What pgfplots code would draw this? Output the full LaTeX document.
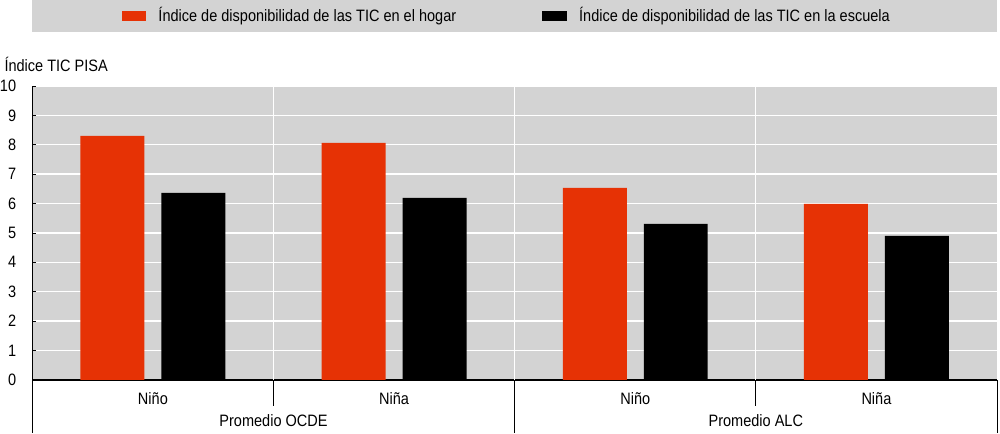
\documentclass[border=0pt]{standalone}
\usepackage{fontspec}
\setmainfont{Liberation Sans}[FakeStretch=0.88]
\usepackage{pgfplots}
\pgfplotsset{compat=1.18}
\definecolor{bgray}{RGB}{211,211,211}
\definecolor{tred}{RGB}{230,50,5}
\begin{document}
\fontsize{16.5pt}{19pt}\selectfont
\begin{tikzpicture}
\begin{axis}[
  scale only axis, width=965pt, height=294pt,
  xmin=0, xmax=4, ymin=0, ymax=10,
  clip=false,
  axis background/.style={fill=bgray},
  axis x line*=bottom, axis y line*=left,
  x axis line style={line width=1.6pt},
  y axis line style={line width=0.8pt},
  xtick={0.5,1.5,2.5,3.5},
  xticklabels={Niño,Niña,Niño,Niña},
  major x tick style={draw=none},
  xticklabel style={yshift=-3pt},
  extra x ticks={1,2,3},
  extra x tick labels={},
  extra x tick style={grid=major, major tick length=0pt},
  ytick={0,1,...,10},
  ymajorgrids,
  grid style={white, line width=1.3pt},
  major tick length=4pt,
  tick align=inside,
  ytick style={black, line width=0.8pt},
  yticklabel style={inner sep=0pt, xshift=-16pt},
  /pgf/number format/assume math mode=true,
  tick label style={font=\fontsize{16.5pt}{19pt}\selectfont},
  ybar=17pt, bar width=64pt,
  legend columns=2,
  legend style={draw=none, fill=none, at={(0.5,1)}, anchor=center, yshift=70pt, xshift=-8pt,
    font=\fontsize{16.5pt}{19pt}\selectfont,
    /tikz/every even column/.append style={column sep=84pt}},
  legend image code/.code={\fill[#1] (0pt,-5pt) rectangle (25pt,5pt); \path (35pt,0pt);},
]
\fill[bgray] ([yshift=54pt]rel axis cs:0,1) rectangle ([yshift=86pt]rel axis cs:1,1);
\addplot[draw=none, fill=tred] coordinates {(0.5,8.30) (1.5,8.06) (2.5,6.53) (3.5,5.99)};
\addplot[draw=none, fill=black] coordinates {(0.5,6.36) (1.5,6.19) (2.5,5.31) (3.5,4.90)};
\legend{Índice de disponibilidad de las TIC en el hogar, Índice de disponibilidad de las TIC en la escuela}
\draw[line width=0.8pt] (axis cs:0,0) -- ++(0pt,-53pt);
\draw[line width=0.8pt] (axis cs:2,0) -- ++(0pt,-53pt);
\draw[line width=0.8pt] (axis cs:4,0) -- ++(0pt,-53pt);
\draw[line width=0.8pt] (axis cs:1,0) -- ++(0pt,-26pt);
\draw[line width=0.8pt] (axis cs:3,0) -- ++(0pt,-26pt);
\node[anchor=center] at ([yshift=-41pt]axis cs:1,0) {Promedio OCDE};
\node[anchor=center] at ([yshift=-41pt]axis cs:3,0) {Promedio ALC};
\node[anchor=base west, inner sep=0pt] at ([xshift=-28pt, yshift=14pt]rel axis cs:0,1) {Índice TIC PISA};
\path ([xshift=3pt]rel axis cs:1,0) -- ++(0,0);
\end{axis}
\end{tikzpicture}
\end{document}
